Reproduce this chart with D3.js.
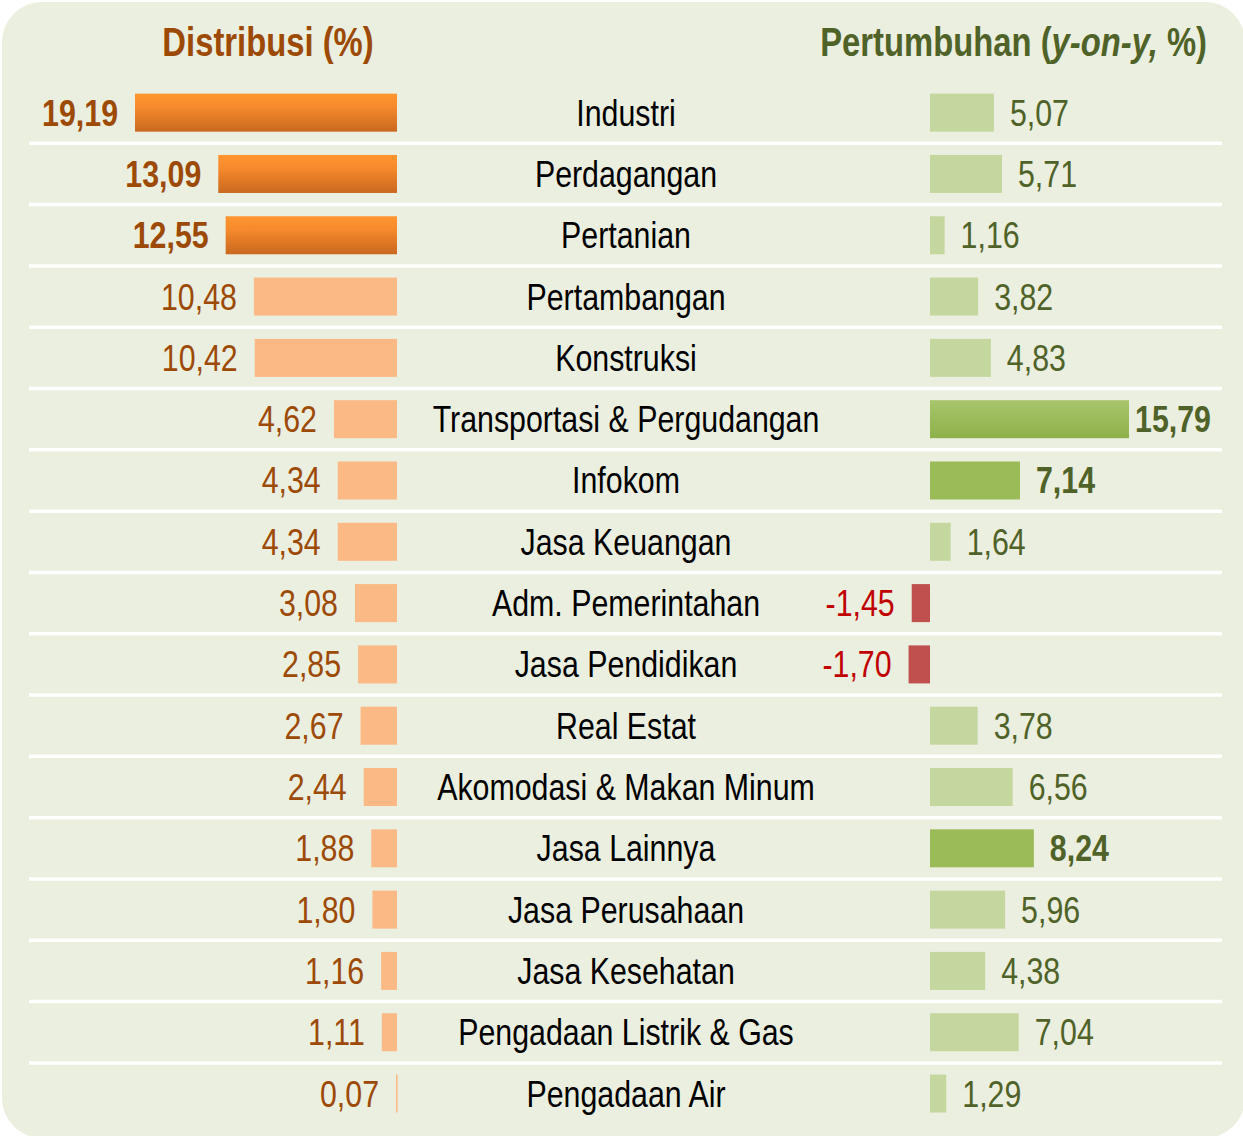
<!DOCTYPE html>
<html>
<head>
<meta charset="utf-8">
<script src="https://cdn.jsdelivr.net/npm/d3@7"></script>
<style>
  body { margin: 0; background: #ffffff; }
  svg text { font-family: "Liberation Sans", Arial, sans-serif; }
</style>
</head>
<body>
<script>
// data
var sectors = ["Industri", "Perdagangan", "Pertanian", "Pertambangan", "Konstruksi",
    "Transportasi & Pergudangan", "Infokom", "Jasa Keuangan", "Adm. Pemerintahan",
    "Jasa Pendidikan", "Real Estat", "Akomodasi & Makan Minum", "Jasa Lainnya",
    "Jasa Perusahaan", "Jasa Kesehatan", "Pengadaan Listrik & Gas", "Pengadaan Air"];
var distribusi = [19.19, 13.09, 12.55, 10.48, 10.42, 4.62, 4.34, 4.34, 3.08, 2.85,
    2.67, 2.44, 1.88, 1.80, 1.16, 1.11, 0.07];
var pertumbuhan = [5.07, 5.71, 1.16, 3.82, 4.83, 15.79, 7.14, 1.64, -1.45, -1.70,
    3.78, 6.56, 8.24, 5.96, 4.38, 7.04, 1.29];
// highlighted rows
var topDistribusi = ["Industri", "Perdagangan", "Pertanian"];
var topPertumbuhan = ["Transportasi & Pergudangan", "Infokom", "Jasa Lainnya"];

var width = 1243;
var height = 1136;
var narrow = 0.82; // squeeze to look like a narrow font

var rows = sectors.map(function(s, i) {
    return { name: s, dist: distribusi[i], growth: pertumbuhan[i] };
});

var fmt = function(v) {
    return d3.format(".2f")(v).replace(".", ",").replace("\u2212", "-");
};

function place(x, y) {
    return "translate(" + x + "," + y + ") scale(" + narrow + ",1)";
}

var svg = d3.select("body")
    .append("svg")
    .attr("width", width)
    .attr("height", height);

var defs = svg.append("defs");
var gOrange = defs.append("linearGradient")
    .attr("id", "gOrange").attr("x1", 0).attr("y1", 0).attr("x2", 0).attr("y2", 1);
gOrange.append("stop").attr("offset", "0%").attr("stop-color", "#ff952f");
gOrange.append("stop").attr("offset", "35%").attr("stop-color", "#f68a2c");
gOrange.append("stop").attr("offset", "100%").attr("stop-color", "#c9681f");

var gGreen = defs.append("linearGradient")
    .attr("id", "gGreen").attr("x1", 0).attr("y1", 0).attr("x2", 0).attr("y2", 1);
gGreen.append("stop").attr("offset", "0%").attr("stop-color", "#a8c56c");
gGreen.append("stop").attr("offset", "100%").attr("stop-color", "#8eb04a");

// panel
svg.append("rect")
    .attr("x", 2)
    .attr("y", 2)
    .attr("width", 1243)
    .attr("height", 1136)
    .attr("rx", 40)
    .attr("fill", "#ebefdf");

// scales
var y = d3.scaleBand()
    .domain(sectors)
    .range([82, 1124.2])
    .paddingInner(0.38)
    .paddingOuter(0.19);

var xLeft = d3.scaleLinear()
    .domain([0, 19.19])
    .range([397, 135]);

var xRight = d3.scaleLinear()
    .domain([0, 15.79])
    .range([930, 1129]);

var labelX = 626;
var mid = function(d) { return y(d.name) + y.bandwidth() / 2 + 13; };

// separators
svg.selectAll(".sep")
    .data(sectors.slice(1))
    .enter()
    .append("line")
    .attr("class", "sep")
    .attr("x1", 29)
    .attr("x2", 1222)
    .attr("y1", function(d) { return y(d) + y.bandwidth() / 2 - y.step() / 2; })
    .attr("y2", function(d) { return y(d) + y.bandwidth() / 2 - y.step() / 2; })
    .attr("stroke", "#ffffff")
    .attr("stroke-width", 3.5);

// headings
svg.append("text")
    .attr("transform", place(268, 56))
    .attr("text-anchor", "middle")
    .style("font-size", "40px")
    .style("font-weight", "bold")
    .style("fill", "#9c4a06")
    .text("Distribusi (%)");

var h2 = svg.append("text")
    .attr("transform", place(1207, 56))
    .attr("text-anchor", "end")
    .style("font-size", "40px")
    .style("font-weight", "bold")
    .style("fill", "#4f6228");
h2.append("tspan").text("Pertumbuhan (");
h2.append("tspan").style("font-style", "italic").text("y-on-y,");
h2.append("tspan").text(" %)");

var row = svg.selectAll(".row")
    .data(rows)
    .enter()
    .append("g")
    .attr("class", "row");

// left bars
row.append("rect")
    .attr("x", function(d) { return xLeft(d.dist); })
    .attr("y", function(d) { return y(d.name); })
    .attr("width", function(d) { return Math.max(1.5, xLeft(0) - xLeft(d.dist)); })
    .attr("height", y.bandwidth())
    .attr("fill", function(d) {
        return topDistribusi.indexOf(d.name) >= 0 ? "url(#gOrange)" : "#fab985";
    });

row.append("text")
    .attr("transform", function(d) { return place(xLeft(d.dist) - 17, mid(d)); })
    .attr("text-anchor", "end")
    .style("font-size", "37px")
    .style("font-weight", function(d) { return topDistribusi.indexOf(d.name) >= 0 ? "bold" : "normal"; })
    .style("fill", "#9c4a06")
    .text(function(d) { return fmt(d.dist); });

// category labels
row.append("text")
    .attr("transform", function(d) { return place(labelX, mid(d)); })
    .attr("text-anchor", "middle")
    .style("font-size", "37px")
    .style("fill", "#000000")
    .text(function(d) { return d.name; });

// right bars
row.append("rect")
    .attr("x", function(d) { return Math.min(xRight(0), xRight(d.growth)); })
    .attr("y", function(d) { return y(d.name); })
    .attr("width", function(d) { return Math.abs(xRight(d.growth) - xRight(0)); })
    .attr("height", y.bandwidth())
    .attr("fill", function(d) {
        if (d.growth < 0) return "#c0504d";
        if (d.name === "Transportasi & Pergudangan") return "url(#gGreen)";
        return topPertumbuhan.indexOf(d.name) >= 0 ? "#9bbb59" : "#c4d79f";
    });

row.append("text")
    .attr("text-anchor", function(d) { return d.growth < 0 ? "end" : "start"; })
    .style("font-size", "37px")
    .style("font-weight", function(d) { return topPertumbuhan.indexOf(d.name) >= 0 ? "bold" : "normal"; })
    .style("fill", function(d) { return d.growth < 0 ? "#c00000" : "#4f6228"; })
    .text(function(d) { return fmt(d.growth); })
    .attr("transform", function(d) {
        if (d.growth < 0) return place(xRight(d.growth) - 17, mid(d));
        // keep the label inside the panel
        var w = this.getComputedTextLength() * narrow;
        var x = Math.min(xRight(d.growth) + 16, 1211 - w);
        return place(x, mid(d));
    });
</script>
</body>
</html>
